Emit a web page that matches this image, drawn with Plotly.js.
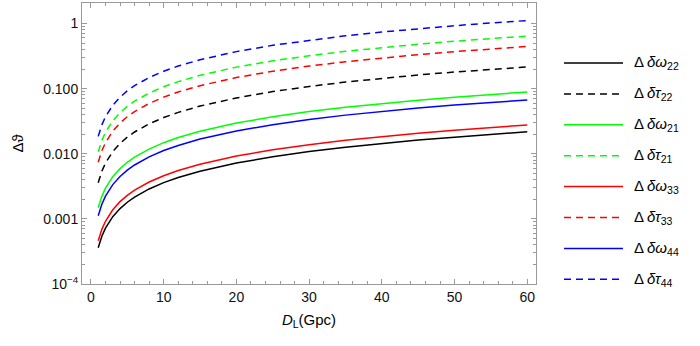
<!DOCTYPE html>
<html>
<head>
<meta charset="utf-8">
<script src="https://cdn.plot.ly/plotly-3.0.1.min.js"></script>
<style>html,body{margin:0;padding:0;background:#fff;}#chart{width:700px;height:346px;}</style>
</head>
<body>
<div id="chart"></div>
<script>
// Luminosity distance D_L (Gpc) sample points
const distance = [1, 1.5, 2, 3, 4, 5, 6, 8, 10, 12, 15, 20, 25, 30, 35, 40, 45, 50, 55, 60];

// Values (Δϑ)
const dw22 = [0.00036, 0.00054, 0.00072, 0.00108, 0.00144, 0.0018, 0.00216, 0.00288, 0.0036, 0.00432, 0.0054, 0.0072, 0.009, 0.0108, 0.0126, 0.0144, 0.0162, 0.018, 0.0198, 0.0217];
const dt22 = [0.0036, 0.0054, 0.0072, 0.0108, 0.0144, 0.018, 0.0216, 0.0288, 0.036, 0.0432, 0.054, 0.072, 0.09, 0.108, 0.126, 0.144, 0.162, 0.18, 0.198, 0.215];
const dw21 = [0.00148, 0.00222, 0.00296, 0.00444, 0.00592, 0.0074, 0.00888, 0.0118, 0.0148, 0.0178, 0.0222, 0.0296, 0.037, 0.0444, 0.0518, 0.0592, 0.0666, 0.074, 0.0814, 0.089];
const dt21 = [0.0107, 0.016, 0.0214, 0.0321, 0.0428, 0.0535, 0.0642, 0.0856, 0.107, 0.128, 0.16, 0.214, 0.267, 0.321, 0.374, 0.428, 0.481, 0.535, 0.588, 0.642];
const dw33 = [0.00046, 0.00069, 0.00092, 0.00138, 0.00184, 0.0023, 0.00276, 0.00368, 0.0046, 0.00552, 0.0069, 0.0092, 0.0115, 0.0138, 0.0161, 0.0184, 0.0207, 0.023, 0.0253, 0.0277];
const dt33 = [0.0074, 0.0111, 0.0148, 0.0222, 0.0296, 0.037, 0.0444, 0.0592, 0.074, 0.0888, 0.111, 0.148, 0.185, 0.222, 0.259, 0.296, 0.333, 0.37, 0.407, 0.444];
const dw44 = [0.00112, 0.00168, 0.00224, 0.00336, 0.00448, 0.0056, 0.00672, 0.00896, 0.0112, 0.0134, 0.0168, 0.0224, 0.028, 0.0336, 0.0392, 0.0448, 0.0504, 0.056, 0.0616, 0.067];
const dt44 = [0.0185, 0.0278, 0.037, 0.0555, 0.074, 0.0925, 0.111, 0.148, 0.185, 0.222, 0.278, 0.37, 0.463, 0.555, 0.648, 0.74, 0.833, 0.925, 1.02, 1.11];

const seriesNames = [
  "Δ\u2009<i>δω</i><sub>22</sub>", "Δ\u2009<i>δτ</i><sub>22</sub>",
  "Δ\u2009<i>δω</i><sub>21</sub>", "Δ\u2009<i>δτ</i><sub>21</sub>",
  "Δ\u2009<i>δω</i><sub>33</sub>", "Δ\u2009<i>δτ</i><sub>33</sub>",
  "Δ\u2009<i>δω</i><sub>44</sub>", "Δ\u2009<i>δτ</i><sub>44</sub>"
];
const seriesValues = [dw22, dt22, dw21, dt21, dw33, dt33, dw44, dt44];
const seriesColors = ["#000000", "#000000", "#00ff00", "#00ff00", "#ff0000", "#ff0000", "#0000ff", "#0000ff"];
const seriesDash = ["solid", "7px,5px", "solid", "7px,5px", "solid", "7px,5px", "solid", "7px,5px"];

const yTickVals = [0.0001, 0.001, 0.01, 0.1, 1];
const yTickText = ["10<sup>−4</sup>", "0.001", "0.010", "0.100", "1"];
const xTickVals = [0, 10, 20, 30, 40, 50, 60];

// minor ticks
const yMinor = [];
for (let e = -4; e <= 0; e++) for (let m = 2; m <= 9; m++) yMinor.push(m * Math.pow(10, e));
const xMinor = [];
for (let v = 0; v <= 60; v += 2) if (v % 10 !== 0) xMinor.push(v);

const traces = seriesValues.map((vals, i) => ({
  x: distance, y: vals, type: "scatter", mode: "lines", name: seriesNames[i],
  line: {color: seriesColors[i], width: 1.5, dash: seriesDash[i]}, showlegend: false
}));

const W = 700, H = 346;
const mL = 82, mR = 164, mT = 3, mB = 62;
const pw = W - mL - mR, ph = H - mT - mB;
const px2x = p => (p - mL) / pw;
const py2y = p => (H - mB - p) / ph;

// manual legend
const legendTop = 63, legendStep = 30.9;
const shapes = [], annotations = [];
seriesNames.forEach((n, i) => {
  const yy = py2y(legendTop + i * legendStep);
  shapes.push({type: "line", xref: "paper", yref: "paper", x0: px2x(564), x1: px2x(623), y0: yy, y1: yy,
    line: {color: seriesColors[i], width: 1.5, dash: seriesDash[i]}});
  annotations.push({xref: "paper", yref: "paper", x: px2x(632), y: yy, xanchor: "left", yanchor: "middle",
    text: n, showarrow: false, font: {family: "Liberation Sans, Arial, sans-serif", size: 15, color: "#000"}});
});

const axisCommon = {
  showline: true, linecolor: "#9a9a9a", linewidth: 1, mirror: "allticks",
  ticks: "inside", ticklen: 5, tickcolor: "#9a9a9a", tickwidth: 1,
  showgrid: false, zeroline: false,
  tickfont: {family: "Liberation Sans, Arial, sans-serif", size: 14, color: "#111"}
};

const layout = {
  width: W, height: H, margin: {l: mL, r: mR, t: mT, b: mB},
  paper_bgcolor: "#fff", plot_bgcolor: "#fff",
  showlegend: false,
  xaxis: Object.assign({}, axisCommon, {
    range: [-1.23, 61.2], tickmode: "array", tickvals: xTickVals,
    minor: {tickmode: "array", tickvals: xMinor, ticks: "inside", ticklen: 3, tickcolor: "#9a9a9a"},
    title: {text: "<i>D</i><sub>L</sub>(Gpc)", standoff: 10,
      font: {family: "Liberation Sans, Arial, sans-serif", size: 15, color: "#000"}}
  }),
  yaxis: Object.assign({}, axisCommon, {
    type: "log", range: [-4, 0.315], tickmode: "array", tickvals: yTickVals, ticktext: yTickText,
    minor: {tickmode: "array", tickvals: yMinor, ticks: "inside", ticklen: 3, tickcolor: "#9a9a9a"},
    title: {text: "Δϑ", standoff: 15,
      font: {family: "Liberation Sans, Arial, sans-serif", size: 15, color: "#000"}}
  }),
  shapes: shapes, annotations: annotations
};

Plotly.newPlot("chart", traces, layout, {staticPlot: true, displayModeBar: false});
</script>
</body>
</html>
